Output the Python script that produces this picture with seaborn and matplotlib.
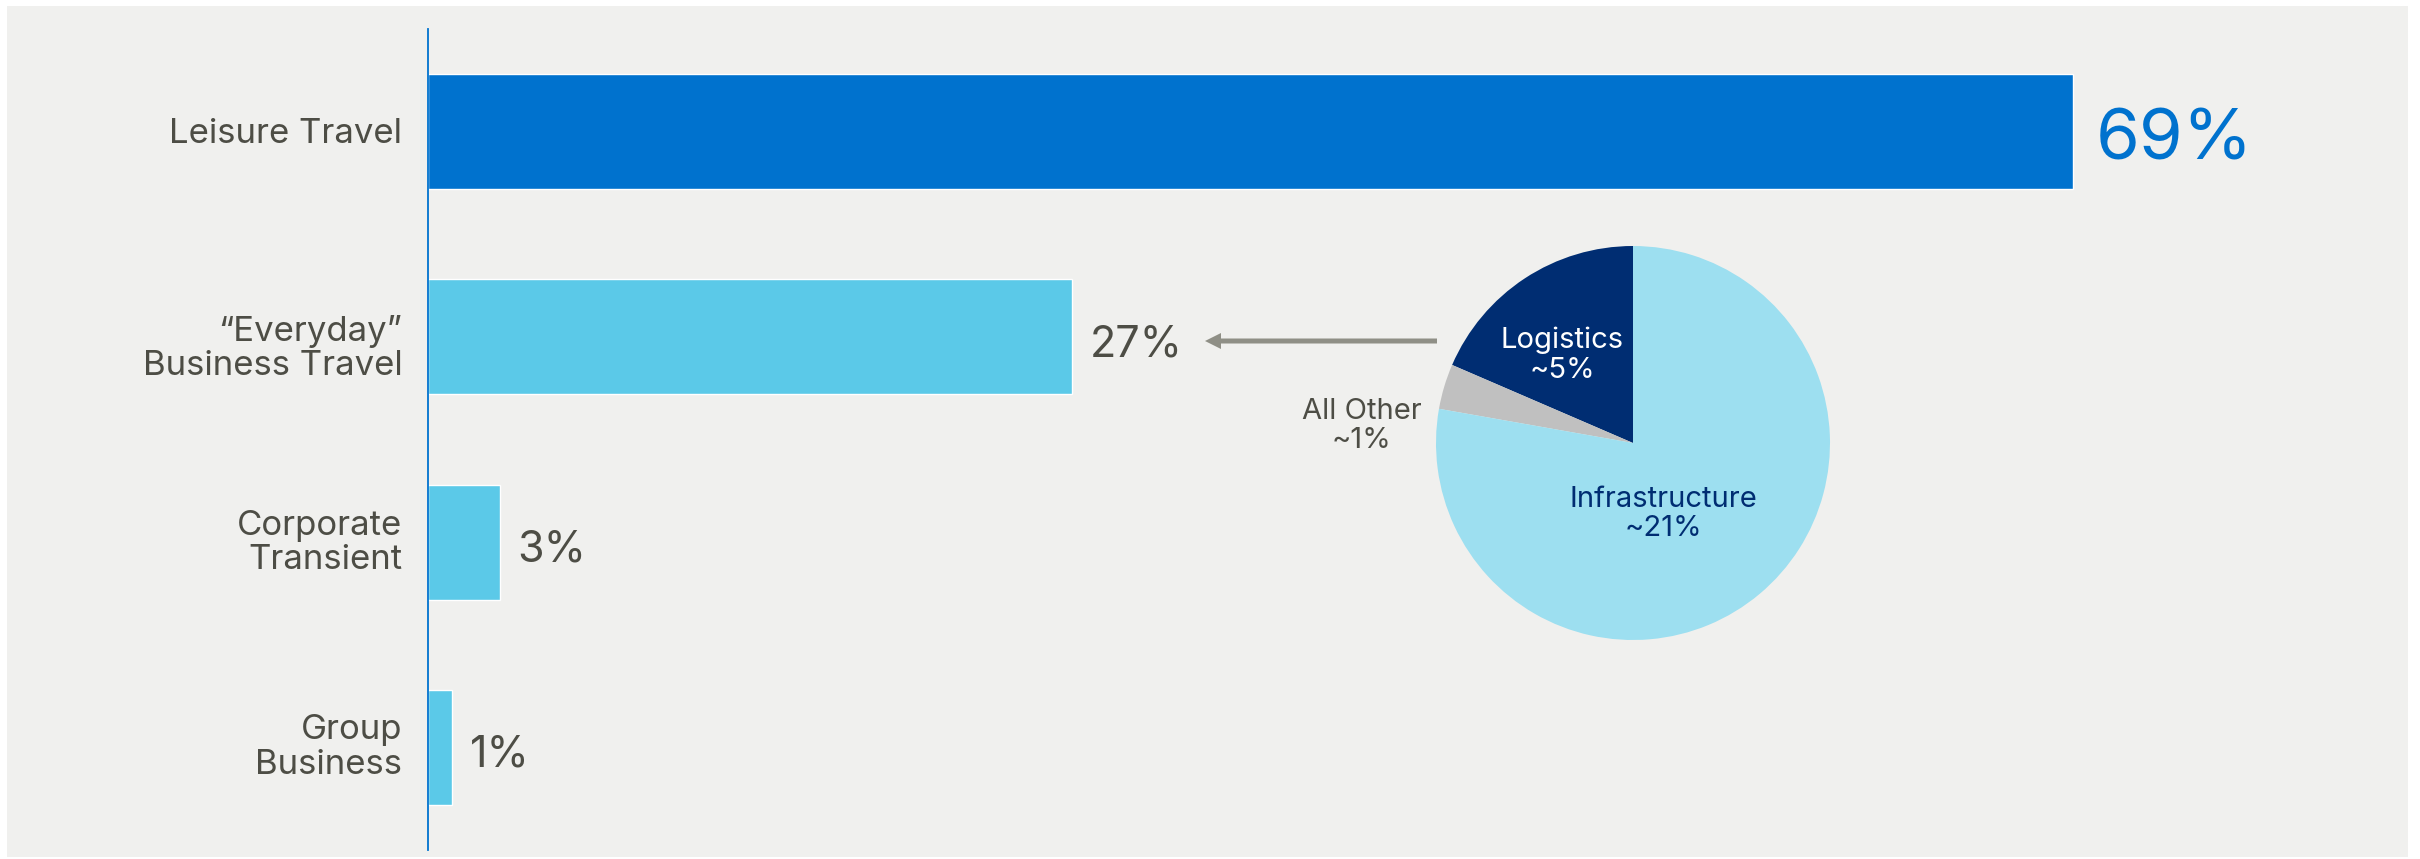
import matplotlib
matplotlib.use("Agg")
import matplotlib.pyplot as plt
from matplotlib.patches import Rectangle, FancyArrow
from matplotlib.transforms import Affine2D
import seaborn as sns

# ---- data ----
categories = ["Leisure Travel", "\u201cEveryday\u201d\nBusiness Travel",
              "Corporate\nTransient", "Group\nBusiness"]
shares = [69, 27, 3, 1]
bar_colors = ["#0072ce", "#5bc9e8", "#5bc9e8", "#5bc9e8"]

segment_names = ["Logistics", "All Other", "Infrastructure"]
segment_shares = [5, 1, 21]
segment_colors = ["#002d72", "#c0c0c0", "#9ddff0"]

# ---- style ----
sns.set_theme(style="white")
plt.rcParams["font.family"] = ["Inter", "DejaVu Sans"]

W, H, DPI = 2420, 859, 100
TEXT = "#4d4d45"
BG = "#f0f0ee"

fig = plt.figure(figsize=(W / DPI, H / DPI), dpi=DPI, facecolor="white")
# pixel units measured from the top-left corner
px = Affine2D().scale(1 / W, -1 / H).translate(0, 1) + fig.transFigure


def frac(x0, y0, x1, y1):
    """Figure-fraction rect from top-left pixel box."""
    return [x0 / W, (H - y1) / H, (x1 - x0) / W, (y1 - y0) / H]


# panel background
fig.add_artist(Rectangle((7, 6), 2401, 851, transform=px,
                         facecolor=BG, edgecolor="none", zorder=0))

# ---- bar chart ----
ax = fig.add_axes(frac(428, 29, 2408, 850))
ax.set_facecolor("none")
sns.barplot(x=shares, y=categories, hue=categories, palette=bar_colors,
            orient="h", width=0.56, saturation=1, legend=False, ax=ax)
ax.set_xlim(0, 83.05)
ax.set_ylim(3.5, -0.5)
for s in ("top", "right", "bottom"):
    ax.spines[s].set_visible(False)
ax.spines["left"].set_color("#0072ce")
ax.spines["left"].set_linewidth(1.3)
ax.set_xticks([])
ax.set_xlabel("")
ax.set_ylabel("")
ax.set_yticks(range(len(categories)))
ax.set_yticklabels([])
ax.tick_params(axis="y", length=0)

# category names, right-aligned against the axis line
name_shift = [-2, -8.5, -0.5, 0]   # vertical nudge in points
for i, name in enumerate(categories):
    ax.annotate(name, xy=(0, i), xytext=(-18.5, name_shift[i]),
                textcoords="offset points", ha="right", va="center",
                multialignment="right", linespacing=1.1,
                fontsize=25, color=TEXT, annotation_clip=False)

for i, v in enumerate(shares):
    if i == 0:
        ax.annotate(f"{v}%", xy=(v, i), xytext=(16, -20),
                    textcoords="offset points", va="baseline", ha="left",
                    fontsize=51, color="#0072ce")
    else:
        ax.annotate(f"{v}%", xy=(v, i), xytext=(13, -14),
                    textcoords="offset points", va="baseline", ha="left",
                    fontsize=31, color=TEXT)

# ---- breakdown pie (units = pixels around its centre) ----
cx, cy, r = 1633, 443, 197
pax = fig.add_axes(frac(cx - 200, cy - 200, cx + 200, cy + 200))
pax.pie(segment_shares, colors=segment_colors, startangle=90,
        counterclock=True, radius=r, wedgeprops=dict(linewidth=0))
pax.set_xlim(-200, 200)
pax.set_ylim(-200, 200)
pax.set_aspect("equal")
pax.axis("off")

pax.text(-71, 88, f"{segment_names[0]}\n~{segment_shares[0]}%",
         ha="center", va="center", fontsize=21, color="white",
         linespacing=1.12)
pax.text(30, -71, f"{segment_names[2]}\n~{segment_shares[2]}%",
         ha="center", va="center", fontsize=21, color="#002d72",
         linespacing=1.12)
pax.text(-271, 17, f"{segment_names[1]}\n~{segment_shares[1]}%",
         ha="center", va="center", fontsize=21, color=TEXT,
         linespacing=1.12, clip_on=False)

# arrow linking the pie to the "Everyday" bar
fig.add_artist(FancyArrow(1437, 341, -232, 0, width=5, head_width=16,
                          head_length=16, length_includes_head=True,
                          transform=px, color="#8f8f86", linewidth=0))

fig.savefig("out.png", dpi=DPI, facecolor="white")
